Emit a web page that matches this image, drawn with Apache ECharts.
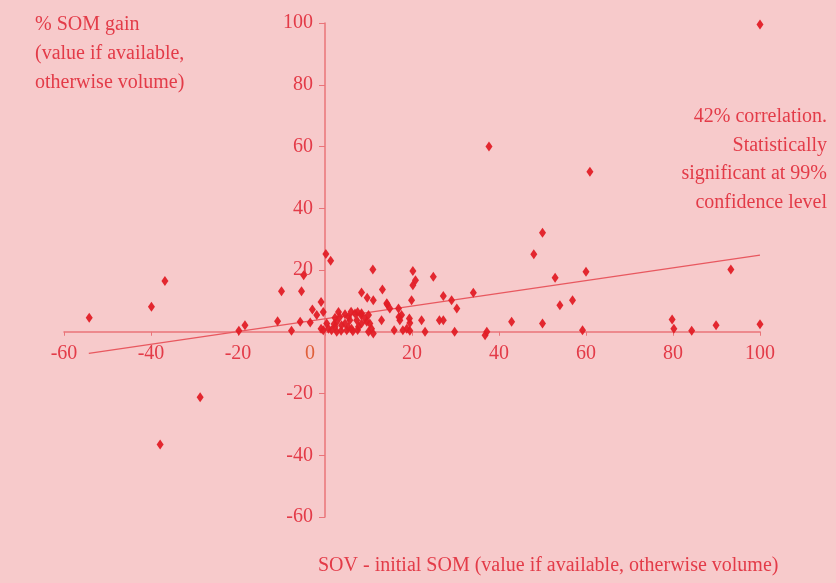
<!DOCTYPE html>
<html>
<head>
<meta charset="utf-8">
<title>SOM gain vs SOV</title>
<script src="https://cdn.jsdelivr.net/npm/echarts@6/dist/echarts.min.js"></script>
<style>
  html, body { margin: 0; padding: 0; background: #f7cacb; }
  #chart { width: 836px; height: 583px; }
</style>
</head>
<body>
<div id="chart"></div>
<script>
// Brands: [SOV - initial SOM, % SOM gain]
const brandPoints = [
  [-54.2, 4.5], [-39.9, 8.1], [-36.8, 16.4], [-37.9, -36.5], [-28.7, -21.2],
  [-19.8, 0.3], [-18.4, 2.1], [-10.9, 3.4], [-10.0, 13.1], [-7.7, 0.3],
  [-5.7, 3.2], [-5.4, 13.1], [-4.9, 18.3], [-3.4, 3.0], [-2.9, 7.2],
  [-1.9, 5.4], [-0.9, 9.6], [-0.9, 1.0], [-0.4, 6.4], [-0.4, 0.5],
  [0.2, 25.2], [1.3, 23.0], [0.4, 2.7], [0.8, 1.0], [1.5, 0.5],
  [2.1, 2.5], [2.3, 1.6], [2.3, 4.5], [2.7, 3.2], [2.7, 0.0],
  [3.1, 6.4], [3.4, 4.8], [3.7, 0.3], [3.8, 2.1], [4.6, 2.7],
  [4.6, 5.7], [5.0, 0.5], [5.4, 4.8], [5.4, 1.4], [5.7, 3.7],
  [6.0, 6.5], [6.1, 1.0], [6.4, 0.2], [6.9, 5.9], [7.3, 3.7],
  [7.5, 6.4], [7.5, 0.6], [7.7, 1.6], [8.3, 5.4], [8.4, 2.7],
  [8.4, 6.0], [8.4, 12.7], [9.2, 4.3], [9.6, 3.2], [9.7, 11.0],
  [10.0, 5.4], [10.0, 0.0], [10.3, 2.7], [10.7, 1.0], [11.0, 20.2],
  [11.1, 10.2], [11.1, -0.6], [13.0, 3.7], [13.2, 13.7], [14.2, 9.2],
  [14.3, 8.8], [14.9, 7.5], [15.9, 0.5], [16.9, 7.5], [17.0, 4.8],
  [17.2, 3.7], [17.6, 5.4], [17.9, 0.5], [18.8, 1.0], [19.4, 4.3],
  [19.5, 2.8], [19.5, 0.3], [19.9, 10.2], [20.2, 19.7], [20.8, 16.7],
  [20.2, 15.1], [22.2, 3.7], [23.0, 0.0], [24.9, 17.8], [26.3, 3.7],
  [27.2, 3.7], [27.2, 11.6], [29.1, 10.2], [29.8, 0.0], [30.3, 7.5],
  [34.1, 12.6], [36.8, -1.1], [37.2, 0.0], [37.7, 60.0], [42.9, 3.2],
  [48.0, 25.1], [50.0, 32.1], [50.0, 2.7], [52.9, 17.5], [54.0, 8.6],
  [56.9, 10.2], [59.2, 0.5], [60.0, 19.4], [60.9, 51.8], [79.8, 4.0],
  [80.2, 1.0], [84.3, 0.3], [89.9, 2.1], [93.3, 20.2], [100.0, 2.4],
  [100.0, 99.5]
];

// Least-squares trend line, drawn between its end points
const trendLine = [[-54.3, -7.0], [100, 24.8]];

const axisMin = -60;
const axisMax = 100;
const axisStep = 20;

const yTitleLines = ['% SOM gain', '(value if available,', 'otherwise volume)'];
const noteLines = ['42% correlation.', 'Statistically', 'significant at 99%', 'confidence level'];
const xTitle = 'SOV - initial SOM (value if available, otherwise volume)';

const serif = '"Liberation Serif", "DejaVu Serif", serif';
const textRed = '#e33b48';
const axisRed = '#ea7479';
const dotRed = '#e11d26';

// Plot area and where the zero lines fall inside it
const W = 836, H = 583;
const grid = { left: 64, right: 76, top: 23, bottom: 66 };
const plotW = W - grid.left - grid.right;
const plotH = H - grid.top - grid.bottom;
const zeroFromLeft = (0 - axisMin) / (axisMax - axisMin) * plotW;
const zeroFromBottom = (0 - axisMin) / (axisMax - axisMin) * plotH;

const chart = echarts.init(document.getElementById('chart'));

const noteGraphics = noteLines.map((line, i) => ({
  type: 'text', right: 9, top: 107 + i * 28.5,
  style: { text: line, fill: textRed, font: '20px ' + serif }
}));

chart.setOption({
  backgroundColor: '#f7cacb',
  animation: false,
  grid: grid,
  xAxis: {
    type: 'value',
    min: axisMin, max: axisMax, interval: axisStep,
    offset: -zeroFromBottom,
    splitLine: { show: false },
    axisLine: { onZero: false, lineStyle: { color: axisRed, width: 1.5 } },
    axisTick: { length: 4, lineStyle: { color: axisRed } },
    axisLabel: {
      color: textRed, fontFamily: serif, fontSize: 20, margin: 12,
      formatter: v => (v === 0 ? '{z|0}' : String(v)),
      rich: { z: { color: '#e0603a', fontFamily: serif, fontSize: 20, padding: [0, 30, 0, 0] } }
    }
  },
  yAxis: {
    type: 'value',
    min: axisMin, max: axisMax, interval: axisStep,
    offset: -zeroFromLeft,
    splitLine: { show: false },
    axisLine: { onZero: false, lineStyle: { color: axisRed, width: 1.5 } },
    axisTick: { length: 6, lineStyle: { color: axisRed } },
    axisLabel: {
      color: textRed, fontFamily: serif, fontSize: 20, margin: 12,
      formatter: v => (v === 0 ? '' : String(v))
    }
  },
  series: [
    {
      type: 'line',
      data: trendLine,
      symbol: 'none',
      lineStyle: { color: '#e8585f', width: 1.3 },
      z: 2
    },
    {
      type: 'scatter',
      data: brandPoints,
      symbol: 'diamond',
      symbolSize: [7, 10],
      itemStyle: { color: dotRed, opacity: 0.95 },
      z: 3
    }
  ],
  graphic: [
    {
      type: 'text', left: 35, top: 10,
      style: {
        text: yTitleLines.join('\n'), fill: textRed,
        font: '20px ' + serif, lineHeight: 29
      }
    },
    ...noteGraphics,
    {
      type: 'text', left: 318, top: 556,
      style: { text: xTitle, fill: textRed, font: '20px ' + serif }
    }
  ]
});
</script>
</body>
</html>
